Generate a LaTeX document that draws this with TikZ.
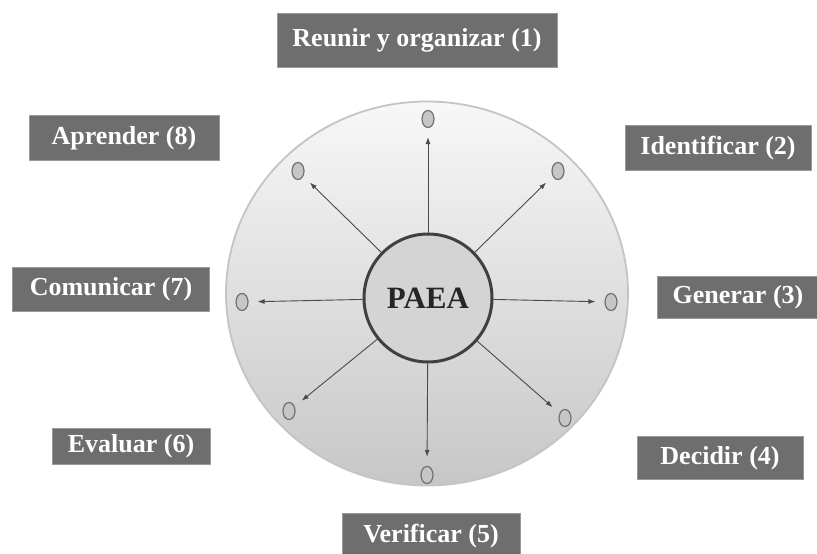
\documentclass[tikz,border=0pt]{standalone}
\usepackage{fontspec}
\setmainfont{Liberation Serif}
\usetikzlibrary{shapes.geometric,arrows.meta}
\definecolor{boxgray}{HTML}{6E6E6E}
\definecolor{dotfill}{HTML}{C6C6C6}
\definecolor{dotline}{HTML}{707070}
\definecolor{rimgray}{HTML}{C4C4C4}
\definecolor{arrgray}{HTML}{4A4A4A}
\tikzset{
  lbl/.style={fill=boxgray, draw=boxgray!70, line width=0.8pt, text=white, font=\fontsize{26}{30}\selectfont\bfseries, inner sep=0pt, anchor=center},
  dot/.style={ellipse, draw=dotline, line width=1.2pt, fill=dotfill, minimum width=12, minimum height=17, inner sep=0pt},
  arr/.style={draw=arrgray, line width=0.9pt, -{Latex[length=7pt,width=5pt]}, shorten >=9pt}
}
\begin{document}
\begin{tikzpicture}[x=1pt,y=-1pt]
\useasboundingbox (0,0) rectangle (817,554);
% big disc
\shade[top color=white!97!black, bottom color=black!22, shading angle=0] (427,293.5) ellipse [x radius=201, y radius=192];
\draw[draw=rimgray, line width=1.8pt] (427,293.5) ellipse [x radius=201, y radius=192];
% centre
\node[circle, draw=black!75, line width=3pt, fill=black!17, minimum size=128, inner sep=0pt, font=\fontsize{31}{34}\selectfont\bfseries, text=black!85] (paea) at (428,298) {PAEA};
% dots
\node[dot] (d1) at (428,119) {};
\node[dot] (d2) at (558,171) {};
\node[dot] (d3) at (611,302) {};
\node[dot] (d4) at (565,418) {};
\node[dot] (d5) at (427,475) {};
\node[dot] (d6) at (289,411) {};
\node[dot] (d7) at (242,302) {};
\node[dot] (d8) at (298,171) {};
% arrows
\foreach \i in {1,...,8}{\draw[arr] (paea) -- (d\i);}
% labels
\node[lbl, minimum width=280, minimum height=54] (l1) at (417,40) {Reunir y organizar (1)};
\node[lbl, minimum width=186, minimum height=45] (l2) at (718,148) {Identificar (2)};
\node[lbl, minimum width=162, minimum height=42] (l3) at (738,297) {Generar (3)};
\node[lbl, minimum width=166, minimum height=43] (l4) at (720,458) {Decidir (4)};
\node[lbl, minimum width=178, minimum height=46] (l5) at (431,536) {Verificar (5)};
\node[lbl, minimum width=158, minimum height=36] (l6) at (131,446) {Evaluar (6)};
\node[lbl, minimum width=197, minimum height=44] (l7) at (111,289) {Comunicar (7)};
\node[lbl, minimum width=190, minimum height=45] (l8) at (124,138) {Aprender (8)};
\end{tikzpicture}
\end{document}
